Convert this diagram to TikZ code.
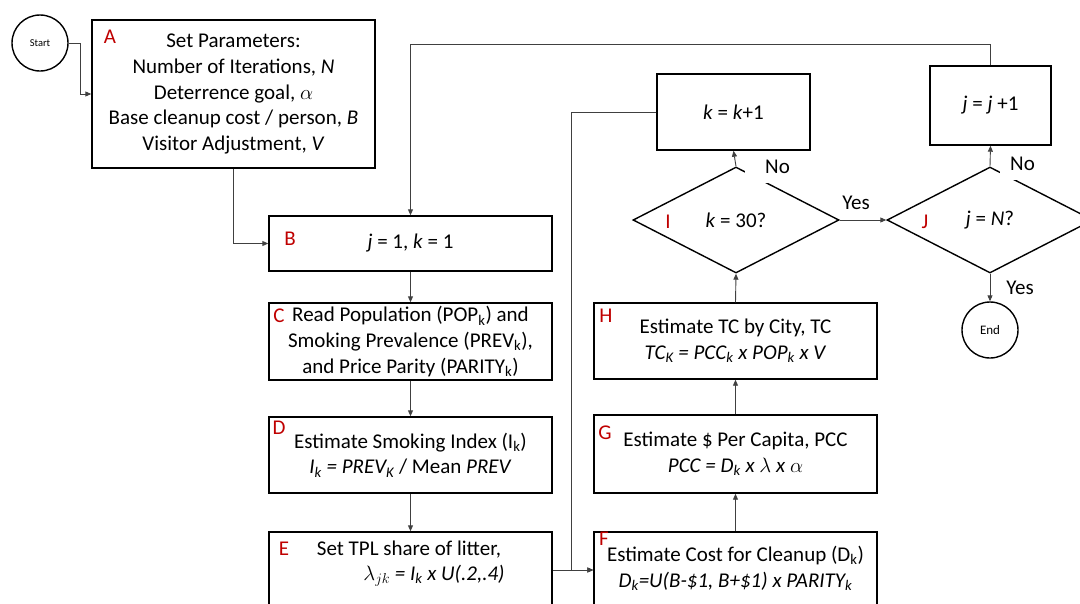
\documentclass[tikz,border=0pt]{standalone}
\usepackage{fontspec}
\setmainfont{Carlito}
\usetikzlibrary{shapes.geometric,arrows.meta}
\begin{document}
\begin{tikzpicture}[x=1pt,y=-1pt,
  every node/.style={font=\fontsize{21}{25.6}\selectfont, inner sep=0pt},
  box/.style={draw=black, line width=1.4pt, rectangle, minimum width=283pt, align=center},
  dia/.style={draw=black, line width=1.4pt, diamond, minimum width=206pt, minimum height=106pt, inner sep=0pt},
  term/.style={draw=black, line width=1.4pt, circle, minimum size=56pt},
  tag/.style={text=red!75!black},
  conn/.style={draw=black!75, line width=0.9pt},
  arr/.style={conn, -{Triangle[length=6pt,width=5pt]}},
  nolbl/.style={fill=white, inner sep=0pt, text depth=10pt, anchor=base west}
]
\useasboundingbox (0,0) rectangle (1080,603);
\clip (0,0) rectangle (1080,603);

% terminals
\node[term, font=\fontsize{10.5}{12}\selectfont] (start) at (40,43) {Start};
\node[term, font=\fontsize{13}{15}\selectfont] (end) at (990,330) {End};

% left column
\node[box, minimum height=148pt] (A) at (233.5,94) {Set Parameters:\\ Number of Iterations, \textit{N}\\ Deterrence goal, $\alpha$\\ Base cleanup cost / person, \textit{B}\\ Visitor Adjustment, \textit{V}};
\node[box, minimum height=55pt] (B) at (410.5,243.5) {\textit{j} = 1, \textit{k} = 1};
\node[box, minimum height=77pt] (C) at (410.5,341.5) {Read Population (POP\textsubscript{k}) and\\ Smoking Prevalence (PREV\textsubscript{k}),\\ and Price Parity (PARITY\textsubscript{k})};
\node[box, minimum height=76pt] (D) at (410.5,455) {Estimate Smoking Index (I\textsubscript{k})\\ \textit{I\textsubscript{k} = PREV\textsubscript{K}} / Mean \textit{PREV}};
\node[box, minimum height=76pt] (E) at (410.5,570) {};
\node[align=center] (Et) at (409,563.5) {Set TPL share of litter,\\ \hspace*{50pt}$\lambda_{jk}$ \textit{= I\textsubscript{k} x U(.2,.4)}};

% right column
\node[box, minimum height=76pt] (F) at (735.5,570) {};
\node[align=center] (Ft) at (735.5,568.5) {Estimate Cost for Cleanup (D\textsubscript{k})\\ \textit{D\textsubscript{k}=U(B-\$1, B+\$1) x PARITY\textsubscript{k}}};
\node[box, minimum height=78pt] (G) at (735.5,454) {Estimate \$ Per Capita, PCC\\ \textit{PCC = D\textsubscript{k} x} $\lambda$ \textit{x} $\alpha$};
\node[box, minimum height=76pt] (H) at (735.5,341) {Estimate TC by City, TC\\ \textit{TC\textsubscript{K} = PCC\textsubscript{k} x POP\textsubscript{k} x V}};
\node[box, minimum width=153pt, minimum height=76pt] (kk) at (733.5,112) {\textit{k} = \textit{k}+1};
\node[box, minimum width=121pt, minimum height=79pt] (jj) at (990.5,105.5) {\textit{j} = \textit{j} +1};
\node[dia] (I) at (736,220) {\textit{k} = 30?};
\node[dia] (J) at (990,220) {\textit{j} = \textit{N}?};

% red tags
\node[tag] (tA) at (110,37) {A};
\node[tag] (tB) at (290,239) {B};
\node[tag] (tC) at (279,316) {C};
\node[tag] (tD) at (279,428) {D};
\node[tag] (tE) at (284,549) {E};
\node[tag] (tF) at (604,539) {F};
\node[tag] (tG) at (605,433) {G};
\node[tag] (tH) at (606,316) {H};
\node[tag] (tI) at (668,222) {I};
\node[tag] (tJ) at (925,222) {J};

% connectors
\draw[arr] (start.east) -- ++(12,0) |- (A.west);
\draw[arr] (A.south) |- (B.west);
\draw[arr] (B.south) -- (C.north);
\draw[arr] (C.south) -- (D.north);
\draw[arr] (D.south) -- (E.north);
\draw[arr] (E.east) -- (F.west);
\draw[arr] (kk.west) -- ++(-85,0) |- (F.west);
\draw[arr] (F.north) -- (G.south);
\draw[arr] (G.north) -- (H.south);
\draw[arr] (H.north) -- (I.south);
\draw[arr] (I.north) -- (kk.south);
\draw[arr] (I.east) -- (J.west);
\draw[arr] (J.north) -- (jj.south);
\draw[arr] (J.south) -- (end.north);
\draw[arr] (jj.north) -- ++(0,-21) -| (B.north);

% branch labels
\node[nolbl] (noI) at (745,173) {\hspace*{20pt}No};
\node[nolbl] (noJ) at (1000,170) {\hspace*{10pt}No};
\node (yesI) at (856,203) {Yes};
\node (yesJ) at (1020,288) {Yes};
\end{tikzpicture}
\end{document}
